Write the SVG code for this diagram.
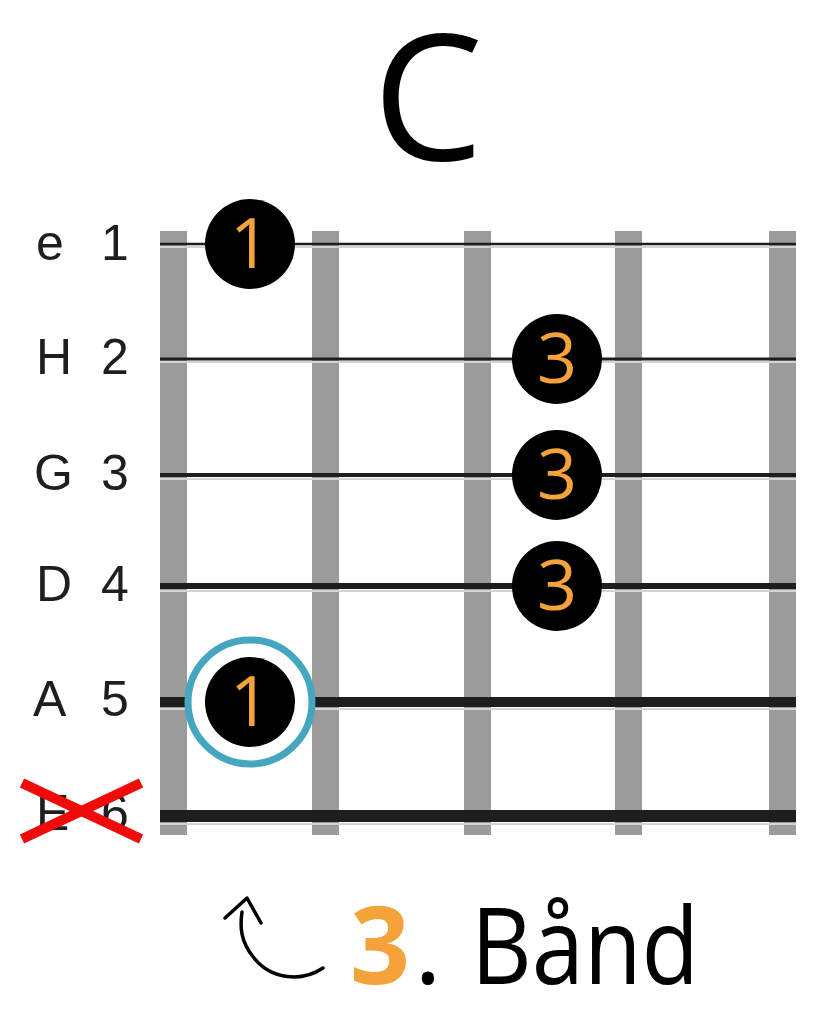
<svg xmlns="http://www.w3.org/2000/svg" width="830" height="1024" viewBox="0 0 830 1024">
<style>
.fret{fill:#9b9b9b}
.str{stroke:#1e1e1e}
.hl{stroke:#d4d4d4;stroke-width:2}
.lbl{font-family:"Liberation Sans",Arial,sans-serif;font-size:50px;fill:#1e1e1e}
.dot{fill:#000}
.num{font-family:"Open Sans","Noto Sans",sans-serif;font-size:70px;fill:#f4a23a;text-anchor:middle}
.big{font-family:"Open Sans","Noto Sans",sans-serif;fill:#000}
.orange{fill:#f4a23a;font-weight:bold}
</style>
<rect width="830" height="1024" fill="#fff"/>
<g id="title"><text class="big" x="428" y="160" font-size="176" text-anchor="middle">C</text></g>
<g id="frets">
<rect class="fret" x="160" y="231" width="27" height="604"/>
<rect class="fret" x="312" y="231" width="27" height="604"/>
<rect class="fret" x="464" y="231" width="27" height="604"/>
<rect class="fret" x="615" y="231" width="27" height="604"/>
<rect class="fret" x="769" y="231" width="27" height="604"/>
</g>
<g id="strings">
<line class="hl" x1="160" y1="247" x2="796" y2="247"/><line class="str" x1="160" y1="244" x2="796" y2="244" stroke-width="2.5"/>
<line class="hl" x1="160" y1="362" x2="796" y2="362"/><line class="str" x1="160" y1="359" x2="796" y2="359" stroke-width="3"/>
<line class="hl" x1="160" y1="479" x2="796" y2="479"/><line class="str" x1="160" y1="475" x2="796" y2="475" stroke-width="4"/>
<line class="hl" x1="160" y1="591" x2="796" y2="591"/><line class="str" x1="160" y1="586" x2="796" y2="586" stroke-width="6"/>
<line class="hl" x1="160" y1="709" x2="796" y2="709"/><line class="str" x1="160" y1="702" x2="796" y2="702" stroke-width="10"/>
<line class="hl" x1="160" y1="824" x2="796" y2="824"/><line class="str" x1="160" y1="816" x2="796" y2="816" stroke-width="12"/>
</g>
<g id="labels">
<text class="lbl" x="36" y="260">e</text><text class="lbl" x="101" y="260">1</text>
<text class="lbl" x="36" y="374">H</text><text class="lbl" x="101" y="374">2</text>
<text class="lbl" x="34" y="490">G</text><text class="lbl" x="101" y="490">3</text>
<text class="lbl" x="36" y="601">D</text><text class="lbl" x="101" y="601">4</text>
<text class="lbl" x="33" y="716">A</text><text class="lbl" x="101" y="716">5</text>
<text class="lbl" x="36" y="830">E</text><text class="lbl" x="101" y="830">6</text>
</g>
<g id="mute">
<line x1="22" y1="783" x2="141" y2="839" stroke="#f00a0a" stroke-width="10"/>
<line x1="22" y1="839" x2="141" y2="783" stroke="#f00a0a" stroke-width="10"/>
</g>
<g id="dot-e1"><circle class="dot" cx="250" cy="244" r="45"/><text class="num" x="250" y="268">1</text></g>
<g id="dot-h3"><circle class="dot" cx="557" cy="359" r="45"/><text class="num" x="557" y="383">3</text></g>
<g id="dot-g3"><circle class="dot" cx="557" cy="475" r="45"/><text class="num" x="557" y="499">3</text></g>
<g id="dot-d3"><circle class="dot" cx="557" cy="586" r="45"/><text class="num" x="557" y="610">3</text></g>
<g id="dot-a1"><circle cx="250" cy="702" r="62" fill="#fff" stroke="#45a6bf" stroke-width="7"/><circle class="dot" cx="250" cy="702" r="45"/><text class="num" x="250" y="726">1</text></g>
<g id="connectors">
<path d="M323 968 C302 982 272 980 254 958 C240 941 240 926 242 912" fill="none" stroke="#000" stroke-width="3.5" stroke-linecap="round"/>
<path d="M225 918 L247 898 L261 923" fill="none" stroke="#000" stroke-width="3.5" stroke-linecap="round" stroke-linejoin="round"/>
</g>
<g id="fret-label">
<text class="big orange" x="350" y="984" font-size="108" textLength="60" lengthAdjust="spacingAndGlyphs">3</text>
<text class="big" x="414" y="984" font-size="106">.</text>
<text class="big" x="471" y="984" font-size="106" textLength="228" lengthAdjust="spacingAndGlyphs">Bånd</text>
</g>
</svg>
